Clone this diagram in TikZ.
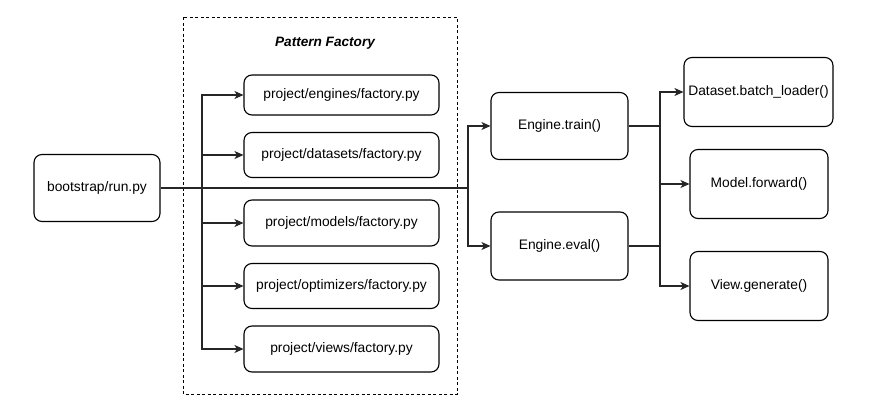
\documentclass[tikz,border=0pt]{standalone}
\usepackage{fontspec}
\setmainfont{Liberation Sans}
\usetikzlibrary{arrows.meta}
\tikzset{
  box/.style={draw=black, line width=1.1pt, rounded corners=8pt, fill=white, inner sep=0pt, align=center, font=\fontsize{13.8}{16}\selectfont},
  arr/.style={draw=black!85, line width=1.1pt, -{Stealth[length=9pt,width=8pt,inset=2.5pt]}},
  ln/.style={draw=black!85, line width=1.1pt},
  group/.style={draw=black, line width=1pt, dash pattern=on 3pt off 2.5pt}
}
\begin{document}
\begin{tikzpicture}[x=1pt,y=-1pt]
\useasboundingbox[fill=white] (0,0) rectangle (873,407);
% dashed group
\draw[group] (183,17) rectangle (457,394);
\node[font=\fontsize{13.6}{16}\selectfont\bfseries\itshape] (title) at (325,43) {Pattern Factory};
% nodes
\node[box, minimum width=126pt, minimum height=67pt] (boot) at (97,188) {bootstrap/run.py};
\node[box, minimum width=195pt, minimum height=40pt] (eng) at (341.5,95) {project/engines/factory.py};
\node[box, minimum width=195pt, minimum height=45pt] (dat) at (341.5,155) {project/datasets/factory.py};
\node[box, minimum width=195pt, minimum height=46pt] (mod) at (341.5,223) {project/models/factory.py};
\node[box, minimum width=195pt, minimum height=45pt] (opt) at (341.5,286) {project/optimizers/factory.py};
\node[box, minimum width=195pt, minimum height=46pt] (vie) at (341.5,349) {project/views/factory.py};
\node[box, minimum width=137pt, minimum height=67pt] (train) at (559.5,126) {Engine.train()};
\node[box, minimum width=137pt, minimum height=68pt] (eval) at (559.5,246) {Engine.eval()};
\node[box, minimum width=149pt, minimum height=69pt] (dsb) at (758.5,92) {Dataset.batch\_loader()};
\node[box, minimum width=138pt, minimum height=69pt] (mfw) at (759,184) {Model.forward()};
\node[box, minimum width=138pt, minimum height=69pt] (vgn) at (759,286) {View.generate()};
% junction coordinates
\coordinate (j1) at (202,188);
\coordinate (j2) at (468,188);
\coordinate (j3) at (660,126);
\coordinate (j4) at (660,246);
% connectors from bootstrap (shared segments drawn once)
\draw[arr] (boot.east) -- (j2) |- (train.west);
\draw[arr] (j2) |- (eval.west);
\draw[arr] (j1) |- (eng.west);
\draw[arr] (j1) |- (vie.west);
\draw[arr] (dat.west -| j1) -- (dat.west);
\draw[arr] (mod.west -| j1) -- (mod.west);
\draw[arr] (opt.west -| j1) -- (opt.west);
% connectors from engines
\draw[arr] (train.east) -- (j3) |- (dsb.west);
\draw[arr] (eval.east) -- (j4) |- (vgn.west);
\draw[ln] (j3) -- (j4);
\draw[arr] (mfw.west -| j3) -- (mfw.west);
\end{tikzpicture}
\end{document}
